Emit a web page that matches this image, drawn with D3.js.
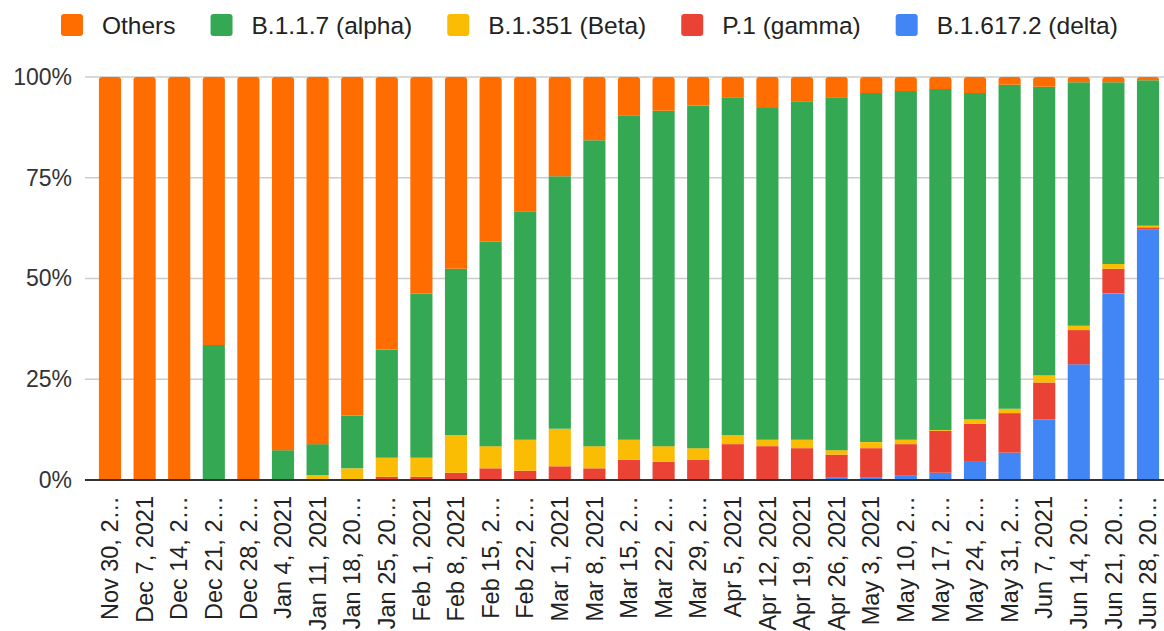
<!DOCTYPE html>
<html>
<head>
<meta charset="utf-8">
<script src="https://cdn.jsdelivr.net/npm/d3@7"></script>
<style>
  body { margin: 0; background: #fff; }
  text { font-family: "Liberation Sans", Arial, sans-serif; }
</style>
</head>
<body>
<div id="chart"></div>
<script>
// week labels as shown (truncated by the original chart)
var weeks = ["Nov 30, 2\u2026", "Dec 7, 2021", "Dec 14, 2\u2026", "Dec 21, 2\u2026", "Dec 28, 2\u2026",
  "Jan 4, 2021", "Jan 11, 2021", "Jan 18, 20\u2026", "Jan 25, 20\u2026", "Feb 1, 2021", "Feb 8, 2021",
  "Feb 15, 2\u2026", "Feb 22, 2\u2026", "Mar 1, 2021", "Mar 8, 2021", "Mar 15, 2\u2026", "Mar 22, 2\u2026",
  "Mar 29, 2\u2026", "Apr 5, 2021", "Apr 12, 2021", "Apr 19, 2021", "Apr 26, 2021", "May 3, 2021",
  "May 10, 2\u2026", "May 17, 2\u2026", "May 24, 2\u2026", "May 31, 2\u2026", "Jun 7, 2021",
  "Jun 14, 20\u2026", "Jun 21, 20\u2026", "Jun 28, 20\u2026"];

// share of sequences, percent
var delta  = [0,0,0,0,0, 0,0,0,0,0, 0,0,0,0,0, 0,0,0,0,0, 0,0.7,0.7,1.2,1.8, 4.5,6.8,15.1,28.7,46.3, 62.2];
var gamma  = [0,0,0,0,0, 0,0,0,0.8,0.8, 1.8,2.9,2.3,3.4,2.9, 5.0,4.5,5.0,8.9,8.4, 7.9,5.6,7.2,7.7,10.4, 9.5,9.8,9.1,8.5,6.1, 0.5];
var beta   = [0,0,0,0,0, 0,1.2,2.9,4.7,4.7, 9.3,5.5,7.7,9.3,5.5, 5.0,3.9,2.9,2.2,1.6, 2.1,1.1,1.5,1.1,0.2, 1.1,1.1,1.7,1.1,1.2, 0.4];
var alpha  = [0,0,0,33.5,0, 7.4,7.7,13.1,26.9,40.8, 41.3,50.7,56.7,62.7,75.9, 80.5,83.2,85.0,83.9,82.3, 84.0,87.6,86.6,86.5,84.6, 80.9,80.4,71.7,60.4,45.1, 36.1];
var others = [100,100,100,66.5,100, 92.6,91.1,84.0,67.6,53.7, 47.6,40.9,33.3,24.6,15.7, 9.5,8.4,7.1,5.0,7.7, 6.0,5.0,4.0,3.5,3.0, 4.0,1.9,2.4,1.3,1.3, 0.8];

var yTicks = [0, 25, 50, 75, 100];

// legend order (top of stack first)
var seriesNames = ["Others", "B.1.1.7 (alpha)", "B.1.351 (Beta)", "P.1 (gamma)", "B.1.617.2 (delta)"];
var seriesKeys = ["others", "alpha", "beta", "gamma", "delta"];
var seriesColors = ["#ff6d01", "#34a853", "#fbbc04", "#ea4335", "#4285f4"];

var width = 1164, height = 631;
var plotLeft = 85, plotRight = 1164, plotTop = 77, plotBottom = 480;

var rows = weeks.map(function(w, i) {
  return { week: w, delta: delta[i], gamma: gamma[i], beta: beta[i], alpha: alpha[i], others: others[i] };
});

var color = d3.scaleOrdinal().domain(seriesKeys).range(seriesColors);

var svg = d3.select("#chart").append("svg")
  .attr("width", width)
  .attr("height", height);

var x = d3.scaleBand()
  .domain(weeks)
  .range([92.7, 1165.3])
  .paddingInner(0.36)
  .paddingOuter(0.18);

var y = d3.scaleLinear()
  .domain([0, 100])
  .range([plotBottom, plotTop]);

// gridlines
svg.append("g")
  .selectAll("line")
  .data(yTicks.filter(function(d) { return d > 0; }))
  .join("line")
    .attr("x1", plotLeft)
    .attr("x2", plotRight)
    .attr("y1", function(d) { return y(d); })
    .attr("y2", function(d) { return y(d); })
    .attr("stroke", "#cccccc")
    .attr("stroke-width", 1.5);

// y axis labels
var yAxis = svg.append("g")
  .attr("transform", "translate(" + plotLeft + ",0)")
  .call(d3.axisLeft(y).tickValues(yTicks).tickSize(0).tickPadding(13)
    .tickFormat(function(d) { return d + "%"; }));
yAxis.select(".domain").remove();
yAxis.selectAll("text")
  .style("font-family", "'Liberation Sans', Arial, sans-serif")
  .style("font-size", "23px")
  .attr("fill", "#333");

// stacked bars, bottom to top
var stack = d3.stack().keys(["delta", "gamma", "beta", "alpha", "others"]);
var layers = stack(rows);

function roundTop(x0, y0, w, h, r) {
  return "M" + x0 + "," + (y0 + h) +
    "V" + (y0 + r) +
    "Q" + x0 + "," + y0 + " " + (x0 + r) + "," + y0 +
    "H" + (x0 + w - r) +
    "Q" + (x0 + w) + "," + y0 + " " + (x0 + w) + "," + (y0 + r) +
    "V" + (y0 + h) + "Z";
}

svg.append("g")
  .selectAll("g")
  .data(layers)
  .join("g")
    .attr("fill", function(d) { return color(d.key); })
  .selectAll("path")
  .data(function(d) { return d.map(function(p) { p.key = d.key; return p; }); })
  .join("path")
    .attr("d", function(d) {
      var x0 = x(d.data.week), w = x.bandwidth();
      var top = y(d[1]), h = y(d[0]) - y(d[1]);
      if (h <= 0) return null;
      if (d.key === "others") return roundTop(x0, top, w, h, 3);
      return "M" + x0 + "," + top + "h" + w + "v" + h + "h" + (-w) + "Z";
    });

// baseline
svg.append("line")
  .attr("x1", plotLeft)
  .attr("x2", plotRight)
  .attr("y1", y(0))
  .attr("y2", y(0))
  .attr("stroke", "#333")
  .attr("stroke-width", 2);

// x labels, rotated
svg.append("g")
  .selectAll("text")
  .data(weeks)
  .join("text")
    .attr("transform", function(d) {
      return "translate(" + (x(d) + x.bandwidth() / 2) + "," + (plotBottom + 16) + ") rotate(-90)";
    })
    .attr("text-anchor", "end")
    .attr("dy", "0.35em")
    .attr("fill", "#222")
    .style("font-size", "23.5px")
    .text(function(d) { return d; });

// legend
var legend = svg.append("g").attr("transform", "translate(61,25)");
var lx = 0;
seriesNames.forEach(function(name, i) {
  legend.append("rect")
    .attr("x", lx)
    .attr("y", -11)
    .attr("width", 22)
    .attr("height", 22)
    .attr("rx", 3)
    .attr("fill", seriesColors[i]);
  var t = legend.append("text")
    .attr("x", lx + 41)
    .attr("y", 0)
    .attr("dy", "0.35em")
    .attr("fill", "#222")
    .style("font-size", "24.5px")
    .text(name);
  lx += 41 + t.node().getComputedTextLength() + 35;
});
</script>
</body>
</html>
